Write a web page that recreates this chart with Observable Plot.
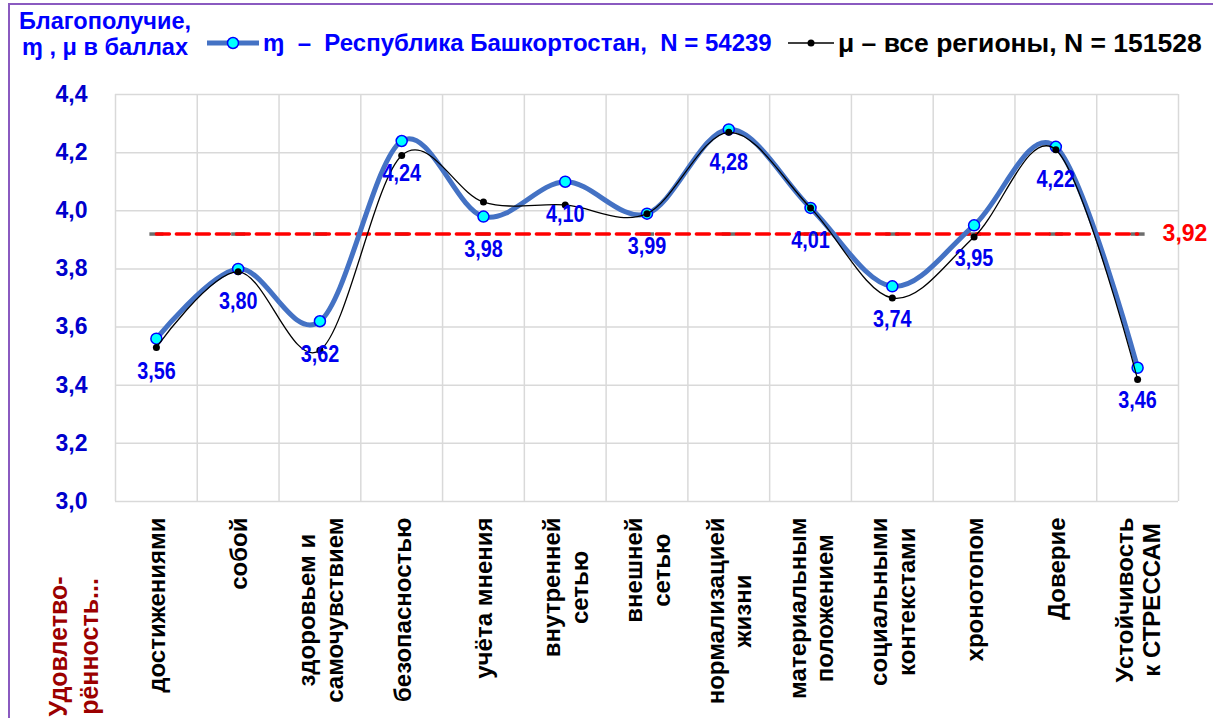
<!DOCTYPE html>
<html>
<head>
<meta charset="utf-8">
<script src="https://cdn.jsdelivr.net/npm/d3@7"></script>
<script src="https://cdn.jsdelivr.net/npm/@observablehq/plot@0.6"></script>
<style>
  html, body { margin: 0; padding: 0; background: #fff; }
  #wrap { position: relative; width: 1213px; height: 718px; overflow: hidden; font-family: "Liberation Sans", Arial, sans-serif; }
  #frame { position: absolute; left: 8px; top: 3px; width: 1400px; height: 900px; border-left: 2px solid #8a5ac0; border-top: 2px solid #8a5ac0; pointer-events: none; }
  #header { position: relative; height: 65px; }
  .t { position: absolute; font-weight: bold; white-space: pre; line-height: 26px; }
  #title { left: 10px; top: 8px; width: 190px; text-align: center; color: #0000ff; font-size: 23.5px; }
  #leg1 { left: 263px; top: 30px; color: #0000ff; font-size: 24px; }
  #leg2 { left: 838px; top: 30px; color: #000; font-size: 26.5px; }
  .sym { position: absolute; }
  #chart { position: absolute; left: 0; top: 65px; }
</style>
</head>
<body>
<div id="wrap">
  <div id="header">
    <div id="title" class="t"></div>
    <svg class="sym" style="left:205px;top:33px" width="56" height="20">
      <line x1="2" y1="10" x2="54" y2="10" stroke="#4472c4" stroke-width="5"/>
      <circle cx="28" cy="10" r="5.5" fill="#00ffff" stroke="#0000ff" stroke-width="1.5"/>
    </svg>
    <div id="leg1" class="t"></div>
    <svg class="sym" style="left:786px;top:33px" width="50" height="20">
      <line x1="2" y1="10" x2="48" y2="10" stroke="#000" stroke-width="1.3"/>
      <circle cx="25" cy="10" r="3.5" fill="#000"/>
    </svg>
    <div id="leg2" class="t"></div>
  </div>
  <div id="chart"></div>
  <div id="frame"></div>
</div>
<script>
const categories = [
  "достижениями",
  "собой",
  "здоровьем и\nсамочувствием",
  "безопасностью",
  "учёта мнения",
  "внутренней\nсетью",
  "внешней\nсетью",
  "нормализацией\nжизни",
  "материальным\nположением",
  "социальными\nконтекстами",
  "хронотопом",
  "Доверие",
  "Устойчивость\nк СТРЕССАМ"
];
const bashValues = [3.56, 3.80, 3.62, 4.24, 3.98, 4.10, 3.99, 4.28, 4.01, 3.74, 3.95, 4.22, 3.46];
const allValues  = [3.53, 3.79, 3.52, 4.19, 4.03, 4.02, 3.99, 4.27, 4.01, 3.70, 3.91, 4.21, 3.42];
const avgValue = 3.92;
const yTicks = [3.0, 3.2, 3.4, 3.6, 3.8, 4.0, 4.2, 4.4];
const titleText = "Благополучие,\nɱ , μ в баллах";
const seriesNames = ["ɱ  –  Республика Башкортостан,  N = 54239", "μ – все регионы, N = 151528"];
const axisTitle = "Удовлетво-\nрённость...";

document.getElementById("title").textContent = titleText;
document.getElementById("leg1").textContent = seriesNames[0];
document.getElementById("leg2").textContent = seriesNames[1];

const fmt1 = d => d.toFixed(1).replace(".", ",");
const fmt2 = d => d.toFixed(2).replace(".", ",");
const idx = d3.range(categories.length);
const dashSymbol = { draw(ctx) { ctx.rect(-7, -1.75, 14, 3.5); } };

const chart = Plot.plot({
  width: 1213,
  height: 653,
  marginTop: 29,
  marginBottom: 217,
  marginLeft: 115,
  marginRight: 35,
  x: { domain: [-0.5, categories.length - 0.5], axis: null },
  y: { domain: [3.0, 4.4], axis: null },
  style: { fontFamily: "'Liberation Sans', Arial, sans-serif", background: "transparent", overflow: "visible" },
  marks: [
    Plot.gridY(yTicks, { stroke: "#d9d9d9", strokeOpacity: 1, strokeWidth: 1.5 }),
    Plot.gridX(d3.range(-0.5, categories.length), { stroke: "#d9d9d9", strokeOpacity: 1, strokeWidth: 1.5 }),
    Plot.axisY(yTicks, { tickSize: 0, tickPadding: 28, tickFormat: fmt1, fill: "#0000cc", fontSize: 23, fontWeight: "bold" }),
    Plot.dot(idx, { x: i => i, y: () => avgValue, symbol: dashSymbol, fill: "#6d6d6d", stroke: "none" }),
    Plot.lineY(idx, { x: i => i, y: () => avgValue, stroke: "#ff0000", strokeWidth: 3.5, strokeDasharray: "13,7" }),
    Plot.text([avgValue], { x: () => categories.length - 1, y: d => d, text: fmt2, dx: 25, textAnchor: "start", fill: "#ff0000", fontSize: 23, fontWeight: "bold" }),
    Plot.line(idx, { x: i => i, y: i => bashValues[i], curve: "cardinal", stroke: "#4472c4", strokeWidth: 5 }),
    Plot.dot(idx, { x: i => i, y: i => bashValues[i], r: 5.5, fill: "#00ffff", stroke: "#0000ff", strokeWidth: 1.5 }),
    Plot.line(idx, { x: i => i, y: i => allValues[i], curve: "cardinal", stroke: "#000", strokeWidth: 1.3 }),
    Plot.dot(idx, { x: i => i, y: i => allValues[i], r: 3.5, fill: "#000" }),
    Plot.text(idx, { x: i => i, y: i => bashValues[i], text: i => fmt2(bashValues[i]), dy: 33, fill: "#0000ee", fontSize: 23, fontWeight: "bold" }),
    Plot.text(idx, { x: i => i, text: i => categories[i], frameAnchor: "bottom", dy: 16, rotate: -90, textAnchor: "middle", lineAnchor: "middle", lineHeight: 1.15, fontSize: 24, fontWeight: "bold", fill: "#000" }),
    Plot.text([axisTitle], { text: d => d, frameAnchor: "bottom-left", dx: -43, dy: 145, rotate: -90, textAnchor: "middle", lineAnchor: "middle", lineHeight: 1.25, fontSize: 25, fontWeight: "bold", fill: "#9b0000" })
  ]
});
document.getElementById("chart").appendChild(chart);

// shift category labels so their top edge sits just under the plot
const catSet = new Set(categories.map(c => c.replace(/\n/g, "")));
const valSet = new Set(bashValues.map(fmt2));
chart.querySelectorAll("text").forEach(t => {
  const s = t.textContent;
  const tr = t.getAttribute("transform") || "";
  if (catSet.has(s) && tr.includes("rotate")) {
    const w = t.getBBox().width;
    t.setAttribute("transform", `translate(0,${w / 2}) ` + tr);
  } else if (valSet.has(s)) {
    const w = t.getComputedTextLength();
    t.setAttribute("textLength", (w * 0.86).toFixed(1));
    t.setAttribute("lengthAdjust", "spacingAndGlyphs");
  }
});
</script>
</body>
</html>
